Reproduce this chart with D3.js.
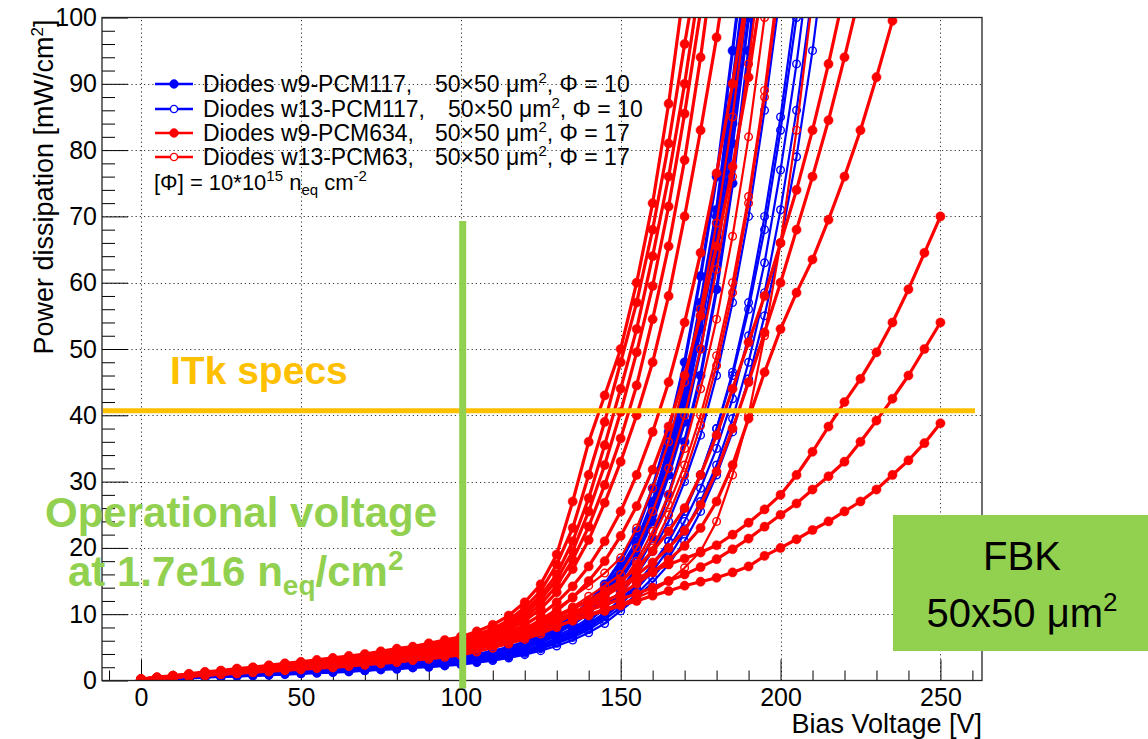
<!DOCTYPE html>
<html><head><meta charset="utf-8">
<script src="https://cdn.jsdelivr.net/npm/d3@7"></script>
<style>
body{margin:0;background:#fff}
svg text{font-family:"Liberation Sans",Arial,Helvetica,sans-serif}
</style>
</head><body>
<svg id="c" width="1148" height="739"></svg>
<script>
// ---------------- DATA ----------------
const voltages = [0,5,10,15,20,25,30,35,40,45,50,55,60,65,70,75,80,85,90,95,100,105,110,115,120,125,130,135,140,145,150,155,160,165,170,175,180,185,190,195,200,205,210,215,220,225,230,235,240,245,250];
const xMajorTicks = [0,50,100,150,200,250];
const xMinorTicks = [-10,10,20,30,40,60,70,80,90,110,120,130,140,160,170,180,190,210,220,230,240,260];
const yMajorTicks = [0,10,20,30,40,50,60,70,80,90,100];
const yMinorTicks = [2,4,6,8,12,14,16,18,22,24,26,28,32,34,36,38,42,44,46,48,52,54,56,58,62,64,66,68,72,74,76,78,82,84,86,88,92,94,96,98];

// Diodes w9-PCM117 (blue, filled markers)
const bf1 = [0.1,0.2,0.4,0.5,0.7,0.8,0.9,1.1,1.2,1.4,1.5,1.6,1.8,2.0,2.1,2.3,2.5,2.7,3.0,3.2,3.5,3.9,4.4,5.0,5.8,6.8,8.0,9.6,11.5,14,17,21,27,35,44,57,71,90,110];
const bf2 = [0.1,0.2,0.4,0.5,0.6,0.7,0.9,1.0,1.1,1.2,1.4,1.5,1.6,1.8,2.0,2.1,2.3,2.5,2.7,2.9,3.2,3.6,4.1,4.7,5.4,6.3,7.5,8.9,10.7,13,16,20,25,32,41,53,67,84,104];
const bf3 = [0.1,0.2,0.3,0.5,0.6,0.7,0.8,0.9,1.1,1.2,1.3,1.4,1.5,1.7,1.8,2.0,2.2,2.3,2.6,2.8,3.0,3.4,3.8,4.4,5.1,6.0,7.1,8.5,10.2,12.4,15.2,19,24,31,39,50,64,81,100];
const bf4 = [0.1,0.2,0.3,0.4,0.5,0.6,0.7,0.8,0.9,1.1,1.2,1.3,1.4,1.5,1.6,1.8,1.9,2.1,2.3,2.5,2.7,3.0,3.4,3.9,4.5,5.3,6.3,7.5,9.0,11,13.5,17,21.5,28,36,46,59,75,95,117];
const bf5 = [0.1,0.2,0.4,0.5,0.6,0.8,0.9,1.0,1.2,1.3,1.4,1.6,1.7,1.8,2.0,2.2,2.4,2.6,2.8,3.0,3.3,3.7,4.2,4.8,5.6,6.5,7.7,9.2,11,13.4,16.4,20.4,26,33.5,42.5,55,69,87,107];
const bf6 = [0.1,0.2,0.4,0.5,0.6,0.8,0.9,1.0,1.2,1.3,1.5,1.6,1.7,1.9,2.1,2.2,2.4,2.6,2.9,3.1,3.4,3.8,4.3,4.9,5.7,6.7,8.0,9.7,11.8,14.5,18,22.5,29,37.5,48,61,76,95,115];
const bf7 = [0.1,0.2,0.3,0.5,0.6,0.7,0.8,1.0,1.1,1.2,1.3,1.5,1.6,1.7,1.9,2.1,2.2,2.4,2.7,2.9,3.1,3.5,4.0,4.6,5.3,6.2,7.4,8.9,10.8,13.2,16.2,20.5,26.5,34,43.5,56,70,88,108];
// Diodes w13-PCM117 (blue, open markers)
const bo1 = [0.1,0.2,0.3,0.4,0.5,0.6,0.8,0.9,1.0,1.1,1.2,1.3,1.4,1.6,1.7,1.8,2.0,2.2,2.4,2.6,2.8,3.1,3.5,4.0,4.6,5.3,6.2,7.3,8.6,10.2,12.2,14.6,17.5,21,25.5,31,38,46,56,68,83,100];
const bo2 = [0.1,0.2,0.3,0.4,0.5,0.6,0.7,0.8,0.9,1.0,1.1,1.2,1.3,1.5,1.6,1.7,1.9,2.0,2.2,2.4,2.6,2.9,3.3,3.7,4.3,5.0,5.8,6.8,8.0,9.6,11.5,13.8,16.5,19.8,24,29,35,42.5,52,63,77,93,112];
const bo3 = [0.1,0.2,0.3,0.4,0.5,0.6,0.7,0.8,0.9,1.0,1.1,1.2,1.3,1.4,1.5,1.7,1.8,2.0,2.1,2.3,2.5,2.8,3.2,3.6,4.1,4.8,5.6,6.5,7.7,9.2,11,13,15.5,18.5,22.5,27,32.5,39.5,48,58.5,71,86,104];
const bo4 = [0.1,0.2,0.3,0.4,0.6,0.7,0.8,0.9,1.0,1.1,1.2,1.4,1.5,1.6,1.8,1.9,2.1,2.3,2.5,2.7,2.9,3.2,3.7,4.2,4.9,5.7,6.7,7.9,9.4,11,13,16,19.5,24,30,37,46,57,70,86,104];
const bo5 = [0.1,0.2,0.3,0.4,0.5,0.6,0.6,0.7,0.8,0.9,1.0,1.1,1.2,1.3,1.5,1.6,1.7,1.9,2.0,2.2,2.4,2.7,3.0,3.4,3.9,4.5,5.2,6.1,7.2,8.6,10.5,12.5,14.8,17.5,21,25.5,31,37.5,45.5,55,66,79,95,114];
const bo6 = [0.1,0.2,0.3,0.4,0.5,0.6,0.7,0.8,0.9,1.0,1.1,1.2,1.3,1.4,1.5,1.7,1.8,2.0,2.1,2.3,2.5,2.8,3.2,3.7,4.3,5.0,5.9,7.0,8.3,9.9,11.8,14.2,17.2,21,25.5,31,38,46.5,57,70,85,103];
// Diodes w9-PCM634 (red, filled markers)
const rf1 = [0.2,0.5,0.7,1.0,1.3,1.5,1.8,2.0,2.3,2.6,2.8,3.1,3.4,3.7,4.0,4.4,4.8,5.1,5.6,6.1,6.6,7.4,8.4,9.8,11.8,14.5,19,27,36,43,50,60,72,87,105];
const rf2 = [0.2,0.4,0.7,0.9,1.2,1.4,1.7,1.9,2.2,2.4,2.7,2.9,3.2,3.5,3.8,4.1,4.5,4.8,5.3,5.7,6.2,6.9,7.8,9.1,11,13.5,17.5,23,31,39,48,57,68,81,96,110];
const rf3 = [0.2,0.4,0.7,0.9,1.1,1.4,1.6,1.9,2.1,2.3,2.6,2.8,3.1,3.4,3.7,4.0,4.3,4.7,5.1,5.5,6.0,6.7,7.5,8.7,10.4,12.8,16,21,27.5,35.5,44,53,64,76,90,106];
const rf4 = [0.2,0.4,0.6,0.9,1.1,1.3,1.6,1.8,2.0,2.3,2.5,2.7,3.0,3.2,3.5,3.8,4.2,4.5,4.9,5.3,5.8,6.5,7.3,8.4,10,12.2,15.2,19.5,25.5,32.5,40.5,49.5,59.5,71.5,85.5,101];
const rf5 = [0.2,0.4,0.6,0.8,1.0,1.3,1.5,1.7,1.9,2.1,2.4,2.6,2.8,3.1,3.4,3.6,4.0,4.3,4.7,5.1,5.5,6.2,7,8,9.5,11.5,14.3,18.2,23.2,29.5,36.5,44.5,54.5,65.5,78.5,94,112];
const rf6 = [0.2,0.4,0.6,0.8,1.0,1.2,1.4,1.6,1.8,2.0,2.2,2.4,2.7,2.9,3.2,3.4,3.7,4.1,4.4,4.8,5.2,5.9,6.6,7.6,9,10.8,13.3,16.8,21.2,26.8,33,40,48,58,70,83,97,113];
const rf7 = [0.2,0.4,0.6,0.8,1.0,1.2,1.4,1.6,1.8,2.0,2.2,2.4,2.6,2.8,3.1,3.3,3.6,3.9,4.3,4.6,5.0,5.6,6.3,7.2,8.4,9.9,11.8,14.2,17.2,21,25.5,31,37.5,45,54,64.5,76.5,90,105];
const rf8 = [0.1,0.3,0.5,0.7,0.9,1.1,1.2,1.4,1.6,1.8,2.0,2.2,2.3,2.6,2.8,3.0,3.3,3.6,3.9,4.2,4.6,5.1,5.8,6.6,7.6,8.9,10.5,12.5,15,18,21.8,26.3,31.8,38.3,46,55,65.5,77.5,91,107];
const rf9 = [0.1,0.3,0.5,0.7,0.8,1.0,1.2,1.4,1.5,1.7,1.9,2.1,2.2,2.5,2.7,2.9,3.2,3.4,3.7,4.0,4.4,4.9,5.5,6.2,7,7.9,8.9,10,11.2,12,13,14.6,16.3,18.2,20.3,23,27,32.5,39.5,46.5,53,58.5,63.5,69.5,76,83,91,99.5,108];
const rf10 = [0.1,0.3,0.5,0.7,0.9,1.1,1.2,1.4,1.6,1.8,2.0,2.2,2.3,2.6,2.8,3.0,3.3,3.6,3.9,4.2,4.6,5.1,5.7,6.4,7.2,8.1,9.1,10.2,11.4,12.7,14.2,15.9,17.8,20,22.6,26.5,31.5,38,45,52.5,60,68,76,84.5,94,104];
const rf11 = [0.1,0.3,0.5,0.7,0.9,1.1,1.3,1.5,1.6,1.8,2.0,2.2,2.4,2.6,2.9,3.1,3.4,3.7,4.0,4.3,4.7,5.2,5.8,6.5,7.4,8.4,9.5,10.8,12.1,13.5,15,17,19.5,22.5,26,31,37,44,51,58,66,74,83,93,104];
const rf12 = [0.1,0.3,0.5,0.7,0.9,1.1,1.3,1.5,1.7,1.9,2.1,2.3,2.4,2.7,2.9,3.2,3.5,3.7,4.1,4.4,4.8,5.5,6.2,7.0,7.8,8.8,9.8,10.9,12,13.1,14.3,15.4,16.5,17.5,18.4,19.3,20.4,22,23.8,25.8,28,31,34.5,38.3,42,45.5,49.5,54,59,64.5,70];
const rf13 = [0.1,0.3,0.5,0.7,0.9,1.0,1.2,1.4,1.6,1.8,1.9,2.1,2.3,2.5,2.7,3.0,3.2,3.5,3.8,4.1,4.5,5.1,5.8,6.5,7.3,8.1,9.0,9.8,10.6,11.4,12.3,13.1,14,15,16,17.1,18.3,19.8,21.4,23.2,25,26.7,28.8,30.8,33,36,39.2,42.5,46,50,54];
const rf14 = [0.1,0.3,0.5,0.6,0.8,1.0,1.1,1.3,1.5,1.6,1.8,2.0,2.1,2.4,2.6,2.8,3.0,3.3,3.6,3.9,4.2,4.8,5.4,6.0,6.7,7.4,8.2,9.0,9.8,10.5,11.3,12,12.8,13.5,14.3,14.9,15.5,16.3,17.2,18.8,20,21.3,22.7,24,25.5,27,28.8,31,33.2,35.8,38.8];
// Diodes w13-PCM63 (red, open markers)
const ro1 = [0.1,0.3,0.5,0.7,0.9,1.1,1.3,1.5,1.7,1.9,2.1,2.3,2.4,2.7,2.9,3.2,3.5,3.7,4.1,4.4,4.8,5.3,6.0,6.8,7.9,9.2,10.8,12.6,14.3,16.2,18.5,23,29,36,45,56,69,85,104];
const ro2 = [0.1,0.3,0.5,0.7,0.9,1.0,1.2,1.4,1.6,1.8,1.9,2.1,2.3,2.5,2.7,3.0,3.2,3.5,3.8,4.1,4.5,5.0,5.6,6.3,7.2,8.3,9.6,11.1,12.7,14.3,16,20,25.5,32,40,50,62,76,93,113];
const ro3 = [0.1,0.3,0.5,0.6,0.8,1.0,1.1,1.3,1.5,1.6,1.8,2.0,2.1,2.4,2.6,2.8,3.0,3.3,3.6,3.9,4.2,4.7,5.2,5.8,6.6,7.5,8.6,9.9,11.3,12.8,14.5,18,22.5,28,35,44,54.5,67,82,100];
const ro4 = [0.1,0.3,0.4,0.6,0.8,0.9,1.1,1.2,1.4,1.6,1.7,1.9,2.0,2.2,2.4,2.6,2.9,3.1,3.4,3.7,4.0,4.4,4.9,5.5,6.2,7.0,8.0,9.2,10.5,11.8,13,16,20,25,31,38.5,47.5,58.5,72,88,106];
const ro5 = [0.1,0.3,0.4,0.6,0.7,0.9,1.0,1.2,1.3,1.5,1.6,1.8,1.9,2.1,2.3,2.5,2.7,3.0,3.2,3.5,3.8,4.3,4.9,5.6,6.4,7.3,8.2,9.1,10,10.8,11.5,12.5,13.5,15,17,19.5,24,31,40,52,66,83,103];
const ro6 = [0.1,0.3,0.5,0.6,0.8,1.0,1.2,1.3,1.5,1.7,1.8,2.0,2.2,2.4,2.6,2.8,3.1,3.4,3.7,4.0,4.3,4.8,5.3,6,6.8,7.7,8.8,10,11.4,12.9,14.6,17.5,21.5,26.5,32.5,40,49,60,73,89,108];

const seriesNames = ["Diodes w9-PCM117,", "Diodes w13-PCM117,", "Diodes w9-PCM634,", "Diodes w13-PCM63,"];
const seriesPhi = ["10", "10", "17", "17"];
const seriesColors = ["#0000ff", "#0000ff", "#ff0000", "#ff0000"];
const seriesFilled = [true, false, true, false];
const seriesCurves = [
  [bf1, bf2, bf3, bf4, bf5, bf6, bf7],
  [bo1, bo2, bo3, bo4, bo5, bo6],
  [rf1, rf2, rf3, rf4, rf5, rf6, rf7, rf8, rf9, rf10, rf11, rf12, rf13, rf14],
  [ro1, ro2, ro3, ro4, ro5, ro6]
];
const itkSpecLevel = 40.7;          // mW/cm2
const operationalVoltage = 100.6;   // V
const operationalSpan = [-1.2, 69.3];

// ---------------- CHART ----------------
const svg = d3.select('#c');
const X0 = 102, X1 = 982, Y0 = 680.5, Y1 = 17.5;
const x = d3.scaleLinear().domain([-12.2, 263]).range([X0, X1]);
const y = d3.scaleLinear().domain([0, 100]).range([Y0, Y1]);

svg.append('rect').attr('width',1148).attr('height',739).attr('fill','#fff');

// grid
const grid = svg.append('g').attr('stroke','#333').attr('stroke-width',1).attr('stroke-dasharray','1.2,3');
xMajorTicks.forEach(v => grid.append('line').attr('x1',Math.round(x(v))+0.5).attr('x2',Math.round(x(v))+0.5).attr('y1',Y0).attr('y2',Y1));
yMajorTicks.filter(v=>v>0&&v<100).forEach(v => grid.append('line').attr('y1',Math.round(y(v))+0.5).attr('y2',Math.round(y(v))+0.5).attr('x1',X0).attr('x2',X1));

// axes
function styleAxis(g){ g.select('.domain').remove(); g.selectAll('line').attr('stroke','#000').attr('stroke-width',1); g.selectAll('text').attr('font-size',25).attr('fill','#000').attr('font-family','"Liberation Sans",Arial,sans-serif'); }
svg.append('g').attr('transform',`translate(0,${Y0})`)
  .call(d3.axisBottom(x).tickValues(xMajorTicks).tickSize(-21).tickPadding(8).tickFormat(d3.format('d'))).call(styleAxis);
svg.append('g').attr('transform',`translate(0,${Y0})`)
  .call(d3.axisBottom(x).tickValues(xMinorTicks).tickSize(-10).tickFormat('')).call(styleAxis);
svg.append('g').attr('transform',`translate(${X0},0)`)
  .call(d3.axisLeft(y).tickValues(yMajorTicks).tickSize(-26).tickPadding(5).tickFormat(d3.format('d'))).call(styleAxis);
svg.append('g').attr('transform',`translate(${X0},0)`)
  .call(d3.axisLeft(y).tickValues(yMinorTicks).tickSize(-13).tickFormat('')).call(styleAxis);

// clip
svg.append('clipPath').attr('id','plotclip').append('rect').attr('x',X0).attr('y',Y1).attr('width',X1-X0).attr('height',Y0-Y1);
const plot = svg.append('g').attr('clip-path','url(#plotclip)');
const line = d3.line().x((d,i)=>x(voltages[i])).y(d=>y(d));

seriesCurves.forEach((curves, s) => {
  const col = seriesColors[s], filled = seriesFilled[s];
  curves.forEach(c => {
    const g = plot.append('g');
    g.append('path').attr('d', line(c)).attr('fill','none').attr('stroke',col)
      .attr('stroke-width', filled ? 3.2 : 2.2).attr('stroke-linejoin','round');
    g.selectAll('circle').data(c).join('circle')
      .attr('cx',(d,i)=>x(voltages[i])).attr('cy',d=>y(d))
      .attr('r', filled ? 4.6 : 3.8)
      .attr('fill', filled ? col : 'none')
      .attr('stroke', col).attr('stroke-width', filled ? 0.5 : 1.4);
  });
});

// frame
svg.append('rect').attr('x',X0).attr('y',Y1).attr('width',X1-X0).attr('height',Y0-Y1)
  .attr('fill','none').attr('stroke','#222').attr('stroke-width',1.3);

// axis titles
svg.append('text').attr('x',X1).attr('y',733).attr('text-anchor','end').attr('font-size',27).text('Bias Voltage [V]');
const yt = svg.append('text').attr('transform',`translate(53,${Y1+2}) rotate(-90)`).attr('text-anchor','end').attr('font-size',27);
yt.append('tspan').text('Power dissipation [mW/cm');
yt.append('tspan').attr('dy',-10).attr('font-size',17).text('2');
yt.append('tspan').attr('dy',10).text(']');

// legend
const legRows = [84, 109, 133, 157];
const legSecondX = [435, 448, 435, 435];
const leg = svg.append('g');
seriesNames.forEach((name, i) => {
  const ry = legRows[i], col = seriesColors[i];
  leg.append('line').attr('x1',155).attr('x2',193).attr('y1',ry).attr('y2',ry).attr('stroke',col).attr('stroke-width',2.5);
  leg.append('circle').attr('cx',174).attr('cy',ry).attr('r', seriesFilled[i]?4.4:3.6)
    .attr('fill', seriesFilled[i]?col:'#fff').attr('stroke',col).attr('stroke-width', seriesFilled[i]?0.5:1.4);
  leg.append('text').attr('x',203).attr('y',ry+8).attr('font-size',23).text(name);
  const t = leg.append('text').attr('x',legSecondX[i]).attr('y',ry+8).attr('font-size',23);
  t.append('tspan').text('50\u00d750 \u03bcm');
  t.append('tspan').attr('dy',-9).attr('font-size',15).text('2');
  t.append('tspan').attr('dy',9).text(', \u03a6 = ' + seriesPhi[i]);
});
const lt = leg.append('text').attr('x',154).attr('y',190).attr('font-size',22);
lt.append('tspan').text('[\u03a6] = 10*10');
lt.append('tspan').attr('dy',-9).attr('font-size',15).text('15');
lt.append('tspan').attr('dy',9).text(' n');
lt.append('tspan').attr('dy',5).attr('font-size',15).text('eq');
lt.append('tspan').attr('dy',-5).text(' cm');
lt.append('tspan').attr('dy',-9).attr('font-size',15).text('-2');

// ---------------- ANNOTATIONS ----------------
svg.append('line').attr('x1',X0+1).attr('x2',975).attr('y1',y(itkSpecLevel)).attr('y2',y(itkSpecLevel))
  .attr('stroke','#FFC000').attr('stroke-width',5);
svg.append('line').attr('x1',x(operationalVoltage)).attr('x2',x(operationalVoltage))
  .attr('y1',y(operationalSpan[0])).attr('y2',y(operationalSpan[1]))
  .attr('stroke','#92D050').attr('stroke-width',7);

svg.append('text').attr('x',170).attr('y',384).attr('font-family','Lato, "Open Sans", sans-serif')
  .attr('font-weight','bold').attr('font-size',39).attr('fill','#FFC000').text('ITk specs');
svg.append('text').attr('x',45).attr('y',527).attr('font-family','Lato, "Open Sans", sans-serif')
  .attr('font-weight','bold').attr('font-size',42).attr('fill','#92D050').text('Operational voltage');
const ov = svg.append('text').attr('x',68).attr('y',586).attr('font-family','Lato, "Open Sans", sans-serif')
  .attr('font-weight','bold').attr('font-size',42).attr('fill','#92D050');
ov.append('tspan').text('at 1.7e16 n');
ov.append('tspan').attr('dy',9).attr('font-size',28).text('eq');
ov.append('tspan').attr('dy',-9).text('/cm');
ov.append('tspan').attr('dy',-16).attr('font-size',28).text('2');

svg.append('rect').attr('x',893).attr('y',515).attr('width',255).attr('height',136).attr('fill','#92D050');
svg.append('text').attr('x',1022).attr('y',570).attr('text-anchor','middle').attr('font-family','Lato, "Open Sans", sans-serif')
  .attr('font-size',40).attr('fill','#000').text('FBK');
const fb = svg.append('text').attr('x',1022).attr('y',627).attr('text-anchor','middle').attr('font-family','Lato, "Open Sans", sans-serif')
  .attr('font-size',40).attr('fill','#000');
fb.append('tspan').text('50x50 \u03bcm');
fb.append('tspan').attr('dy',-16).attr('font-size',26).text('2');
</script>
</body></html>
